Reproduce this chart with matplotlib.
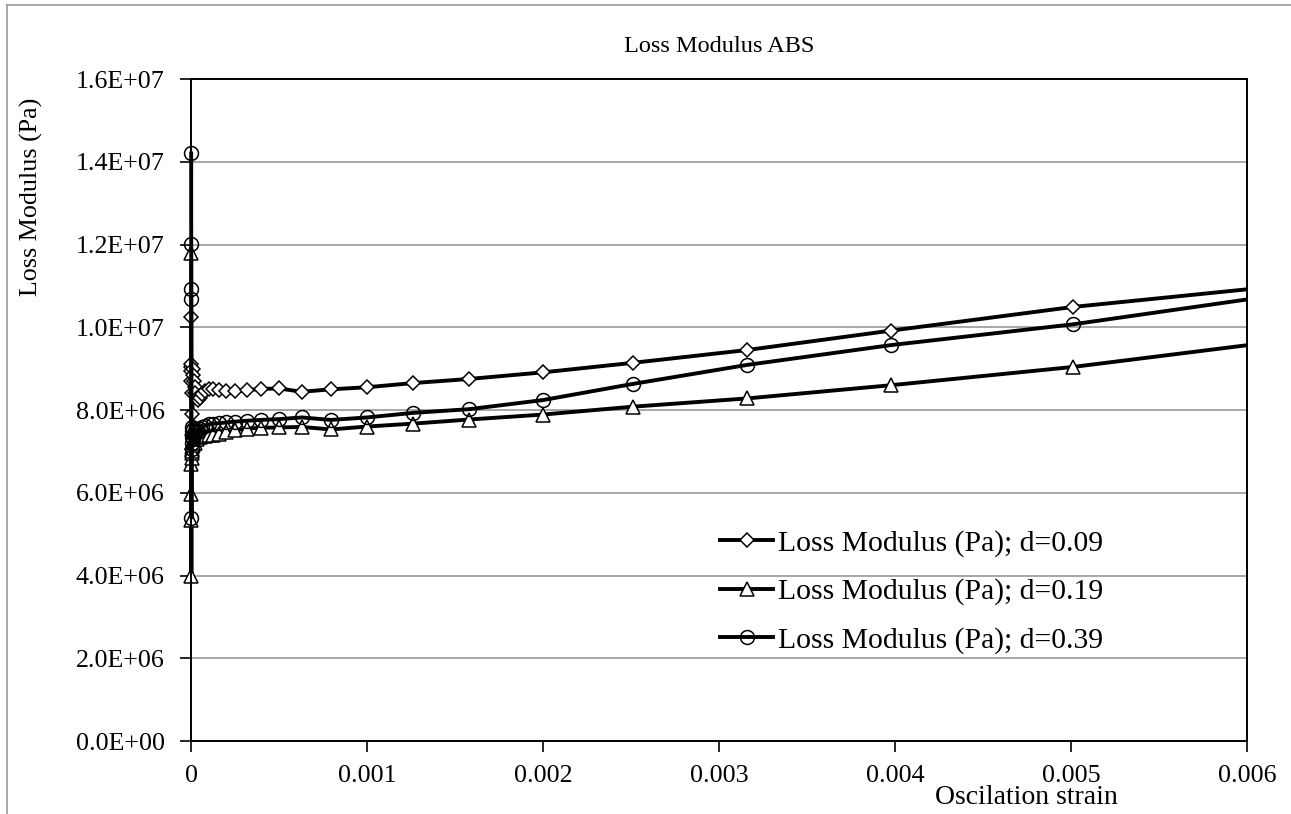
import matplotlib
matplotlib.use("Agg")
import matplotlib.pyplot as plt
from matplotlib.ticker import FuncFormatter, MultipleLocator
from matplotlib.transforms import Bbox, TransformedBbox
from matplotlib.lines import Line2D

plt.rcParams['font.family'] = ['Liberation Serif', 'DejaVu Serif']

# oscillation strain (amplitude sweep, 10 points per decade)
strain = [1.00e-6, 1.26e-6, 1.58e-6, 2.00e-6, 2.51e-6, 3.16e-6, 3.98e-6, 5.01e-6, 6.31e-6, 7.94e-6,
          1.00e-5, 1.26e-5, 1.58e-5, 2.00e-5, 2.51e-5, 3.16e-5, 3.98e-5, 5.01e-5, 6.31e-5, 7.94e-5,
          1.00e-4, 1.26e-4, 1.58e-4, 2.00e-4, 2.51e-4, 3.16e-4, 3.98e-4, 5.01e-4, 6.31e-4, 7.94e-4,
          1.00e-3, 1.26e-3, 1.58e-3, 2.00e-3, 2.51e-3, 3.16e-3, 3.98e-3, 5.01e-3, 6.31e-3]

# loss modulus, in 1E6 Pa
lm_d009 = [10.25, 9.05, 8.95, 9.10, 8.70, 8.40, 7.90, 7.40, 7.05, 6.90,
           9.00, 8.85, 8.70, 8.55, 8.40, 8.30, 8.25, 8.30, 8.38, 8.45,
           8.50, 8.51, 8.49, 8.46, 8.46, 8.48, 8.51, 8.52, 8.44, 8.50,
           8.55, 8.65, 8.75, 8.91, 9.14, 9.45, 9.92, 10.49, 11.05]
lm_d019 = [11.80, 5.98, 5.35, 3.98, 6.70, 6.85, 7.10, 6.95, 7.20, 7.00,
           7.25, 7.15, 7.30, 7.20, 7.35, 7.30, 7.38, 7.35, 7.40, 7.38,
           7.40, 7.40, 7.42, 7.46, 7.51, 7.55, 7.57, 7.58, 7.59, 7.53,
           7.60, 7.67, 7.77, 7.89, 8.08, 8.28, 8.60, 9.04, 9.73]
lm_d039 = [14.20, 12.02, 10.93, 10.68, 5.40, 7.20, 7.50, 7.05, 7.35, 7.60,
           7.30, 7.55, 7.40, 7.50, 7.45, 7.52, 7.48, 7.55, 7.58, 7.62,
           7.65, 7.67, 7.68, 7.70, 7.72, 7.74, 7.76, 7.78, 7.82, 7.76,
           7.82, 7.93, 8.02, 8.24, 8.63, 9.09, 9.57, 10.07, 10.86]

labels = ['Loss Modulus (Pa); d=0.09', 'Loss Modulus (Pa); d=0.19', 'Loss Modulus (Pa); d=0.39']

W, H = 1291, 814
fig = plt.figure(figsize=(W / 100, H / 100), dpi=100)
ax = fig.add_axes([191 / W, 1 - 741 / H, 1056 / W, 662 / H])

# clip region reaching a bit left of x=0 so markers on the axis stay whole
clip = TransformedBbox(Bbox([[-0.03, -0.03], [1.0, 1.03]]), ax.transAxes)

styles = [dict(marker='D', ms=7.5, mfc='white'),
          dict(marker='^', ms=10, mfc='white'),
          dict(marker='o', ms=10, mfc='none')]
for ys, lab, st in zip([lm_d009, lm_d019, lm_d039], labels, styles):
    vals = [v * 1e6 for v in ys]
    ln, = ax.plot(strain, vals, color='black', lw=2.8, mec='black', mew=1.1,
                  label=lab, **st)
    ln.set_clip_box(clip)

ax.set_xlim(0, 0.006)
ax.set_ylim(0, 1.6e7)
ax.xaxis.set_major_locator(MultipleLocator(0.001))
ax.yaxis.set_major_locator(MultipleLocator(2e6))
ax.yaxis.set_major_formatter(FuncFormatter(lambda v, p: format(v, '.1E')))
ax.xaxis.set_major_formatter(FuncFormatter(lambda v, p: '0' if abs(v) < 1e-12 else format(v, 'g')))
ax.tick_params(direction='out', length=8, width=1.2, labelsize=18.7, color='black')
ax.tick_params(axis='y', pad=11)
ax.tick_params(axis='x', pad=9)
ax.grid(axis='y', color='#a0a0a0', lw=1.3)
ax.set_axisbelow(True)
for s in ax.spines.values():
    s.set_linewidth(1.4)
    s.set_color('black')

fig.text(719 / W, 1 - 47 / H, 'Loss Modulus ABS', ha='center', va='center', fontsize=17.5)
fig.text(1026 / W, 1 - 798 / H, 'Oscilation strain', ha='center', va='center', fontsize=20)
fig.text(31 / W, 1 - 197 / H, 'Loss Modulus (Pa)', ha='center', va='center', rotation=90, fontsize=18.7)

ax.legend(loc='upper left', bbox_to_anchor=(720 / W, 1 - 530 / H), bbox_transform=fig.transFigure,
          frameon=False, fontsize=21.3, borderpad=0, borderaxespad=0, handlelength=1.8,
          handletextpad=0.17, labelspacing=0.72)

# outer chart border (top and left edges only are in view)
fig.add_artist(Line2D([7 / W, 7 / W], [0, 1 - 5 / H], color='#a0a0a0', lw=1.3))
fig.add_artist(Line2D([7 / W, 1], [1 - 5 / H, 1 - 5 / H], color='#a0a0a0', lw=1.3))

fig.savefig('out.png', dpi=100)
